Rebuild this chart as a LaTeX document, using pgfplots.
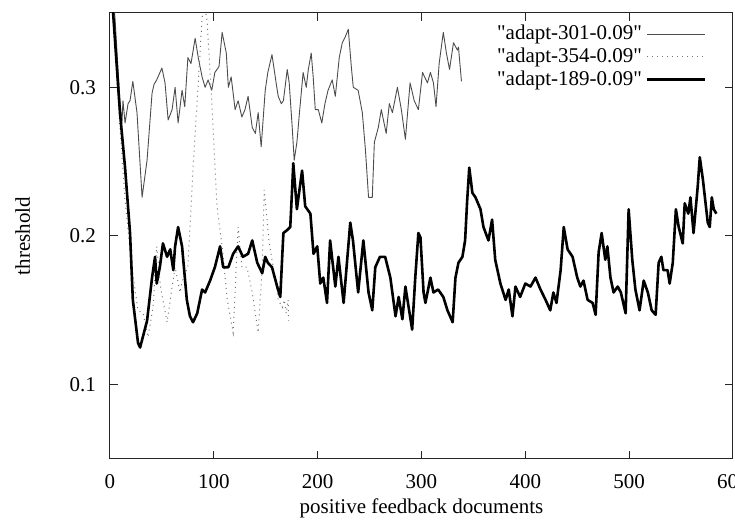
\documentclass[border=0pt]{standalone}
\usepackage{fontspec}
\setmainfont{Liberation Serif}[Ligatures=TeXOff]
\usepackage{pgfplots}
\pgfplotsset{compat=1.18}
\usetikzlibrary{calc}
\begin{document}
\begin{tikzpicture}
\begin{axis}[
  scale only axis,
  width=311.5pt, height=223pt,
  xmin=0, xmax=600, ymin=0.05, ymax=0.35,
  xtick={0,100,200,300,400,500,600},
  ytick={0.1,0.2,0.3},
  /pgf/number format/assume math mode=true,
  font=\fontsize{10.5}{12.6}\selectfont,
  axis line style={line width=0.5pt, black!85},
  major tick style={line width=0.5pt, black!85},
  major tick length=4pt,
  tick align=inside,
  xticklabel style={yshift=-4pt},
  yticklabel style={xshift=-3.5pt},
  xlabel={positive feedback documents},
  ylabel={threshold},
  xlabel style={at={(axis description cs:0.5,-0.11)}, anchor=center},
  ylabel style={at={(axis description cs:-0.140,0.5)}, anchor=center, rotate=0},
  legend cell align=right,
  legend plot pos=right,
  legend style={at={(rel axis cs:1,1)}, anchor=north east, xshift=-10pt, yshift=-2pt,
    draw=none, fill=none, row sep=-1.5pt, font=\fontsize{10.5}{12.6}\selectfont},
  legend image code/.code={\draw[#1] (0pt,0pt) -- (29pt,0pt);},
]
\coordinate (sw) at (rel axis cs:0,0);
\coordinate (ne) at (rel axis cs:1,1);
\addplot[black!70, line width=0.45pt, line join=round] coordinates {
(0,0.380) (4.8,0.347) (9.6,0.290) (11.5,0.276) (12.5,0.291) (14.5,0.276) (17.4,0.289)
(19.3,0.291) (22,0.304) (26,0.283) (30.9,0.226) (35.7,0.251) (40.5,0.296) (42.4,0.302)
(45,0.305) (50,0.313) (53,0.303) (56,0.278) (59.8,0.285) (62.7,0.300) (65.6,0.276)
(69.4,0.298) (72,0.287) (75,0.320) (78,0.316) (82,0.333) (85,0.320) (88.7,0.307)
(91.6,0.300) (94.5,0.305) (98,0.298) (101,0.310) (105,0.314) (108,0.337) (112,0.323)
(114,0.300) (116.7,0.307) (120.5,0.285) (123.4,0.291) (127,0.280) (130,0.285) (133,0.294)
(137,0.273) (140,0.269) (142.7,0.283) (145.6,0.260) (149.5,0.298) (152,0.310) (156,0.322)
(160,0.303) (162,0.294) (165,0.289) (167,0.291) (170.7,0.312) (172.6,0.303) (175.5,0.273)
(177.4,0.251) (180,0.263) (183,0.287) (186,0.310) (189,0.300) (191,0.312) (193.8,0.323)
(195.7,0.307) (197.7,0.285) (200.6,0.285) (204,0.276) (207,0.289) (210,0.298) (214,0.305)
(217,0.294) (220.8,0.320) (223.7,0.330) (226.6,0.334) (229.5,0.339) (232.4,0.314) (234.3,0.300)
(239,0.298) (243,0.283) (246,0.258) (249,0.226) (252.6,0.226) (254.6,0.263) (258.4,0.273)
(261.3,0.285) (266,0.269) (269,0.289) (272,0.283) (276.8,0.300) (280.6,0.285) (284.5,0.265)
(289,0.303) (293,0.291) (297,0.285) (301,0.310) (305.7,0.303) (308.6,0.310) (311.5,0.303)
(314,0.287) (317,0.316) (321,0.337) (324,0.323) (327,0.312) (330.8,0.330) (334.6,0.325)
(335.6,0.327) (338.5,0.304)
};
\addlegendentry{"adapt-301-0.09"}
\addplot[black!55, line width=0.5pt, dotted] coordinates {
(0,0.380) (3,0.350) (9.6,0.273) (14.5,0.224) (21,0.179) (27,0.150) (32,0.148)
(36.6,0.132) (41.5,0.152) (45,0.193) (49,0.164) (55,0.142) (59.8,0.166) (62.7,0.179)
(67.5,0.162) (70.4,0.172) (75,0.179) (80,0.246) (85,0.303) (88.7,0.347) (91,0.355)
(93.5,0.345) (98,0.291) (103,0.220) (108,0.193) (113,0.157) (118.6,0.135) (123.4,0.206)
(127,0.179) (132,0.179) (137,0.162) (142.7,0.135) (146.6,0.179) (148.5,0.231) (151,0.213)
(153,0.197) (156,0.184) (159,0.172) (162,0.157) (166,0.152) (167.8,0.157) (169.7,0.148)
(171.6,0.157) (172,0.143)
};
\addlegendentry{"adapt-354-0.09"}
\addplot[black, line width=1.3pt, line join=round] coordinates {
(0,0.380) (3,0.350) (9.6,0.283) (14.5,0.246) (19.3,0.202) (22,0.157) (27,0.128) (29,0.125)
(35.7,0.143) (40.5,0.172) (43.4,0.186) (45,0.168) (48,0.179) (51,0.195) (55,0.186) (58,0.191)
(61,0.177) (62.7,0.193) (65.6,0.206) (69.4,0.193) (74,0.157) (77,0.146) (80,0.142) (84,0.148)
(88.7,0.164) (91.6,0.162) (96.4,0.170) (101,0.179) (106,0.193) (109,0.179) (114,0.179)
(118.6,0.188) (123.4,0.193) (128,0.186) (133,0.188) (137,0.197) (141.8,0.182) (146.6,0.175)
(149.5,0.186) (152,0.182) (156,0.179) (161,0.166) (164,0.159) (166,0.188) (167,0.202)
(170.7,0.204) (173.6,0.206) (175.5,0.233) (176.5,0.249) (180,0.218) (181.5,0.226) (185,0.244)
(188,0.220) (193,0.215) (196,0.188) (199.6,0.193) (202.5,0.168) (205.4,0.172) (209,0.155)
(212,0.197) (217,0.166) (220,0.186) (225,0.155) (231.4,0.209) (234,0.197) (239,0.162)
(244,0.197) (249,0.162) (252.6,0.150) (255.5,0.179) (260,0.186) (265,0.186) (270,0.172)
(275,0.146) (278,0.159) (281.6,0.144) (284.5,0.166) (291,0.137) (294,0.172) (297,0.202)
(299,0.199) (302,0.162) (303.8,0.155) (308.6,0.172) (311.5,0.162) (316,0.164) (321,0.159)
(325,0.150) (330,0.142) (332.7,0.172) (335.6,0.182) (339.4,0.186) (342,0.197) (344,0.224)
(346,0.246) (349,0.229) (352,0.226) (356.8,0.218) (359.7,0.206) (364.5,0.197) (368,0.211)
(371,0.184) (376,0.168) (381,0.157) (384,0.164) (387.6,0.146) (390.5,0.166) (395,0.159)
(400,0.168) (405,0.166) (409.8,0.172) (414.6,0.164) (419.5,0.157) (424,0.150) (427,0.162)
(430,0.155) (434,0.177) (437,0.206) (440.7,0.191) (445.5,0.186) (450,0.172) (453,0.166)
(456,0.170) (460,0.157) (464.8,0.155) (467.7,0.147) (470.6,0.189) (473.5,0.202) (477,0.184)
(479,0.193) (482,0.172) (485,0.162) (489,0.166) (492,0.162) (496.6,0.148) (499.5,0.218)
(503,0.184) (506,0.164) (510,0.150) (514,0.170) (518,0.162) (521.7,0.150) (525.5,0.147)
(528.4,0.182) (531,0.186) (533,0.177) (537,0.177) (539,0.168) (542,0.182) (545,0.218)
(547.7,0.206) (551.6,0.195) (553.5,0.222) (557,0.215) (559,0.226) (562,0.202) (566,0.233)
(568,0.253) (571,0.238) (575.7,0.209) (577.6,0.206) (579.6,0.226) (581.5,0.218) (584,0.215)
};
\addlegendentry{"adapt-189-0.09"}
\end{axis}
\pgfresetboundingbox
\path[use as bounding box] ($(sw)+(-55pt,-31.5pt)$) rectangle ($(ne)+(1pt,6.5pt)$);
\end{tikzpicture}
\end{document}
